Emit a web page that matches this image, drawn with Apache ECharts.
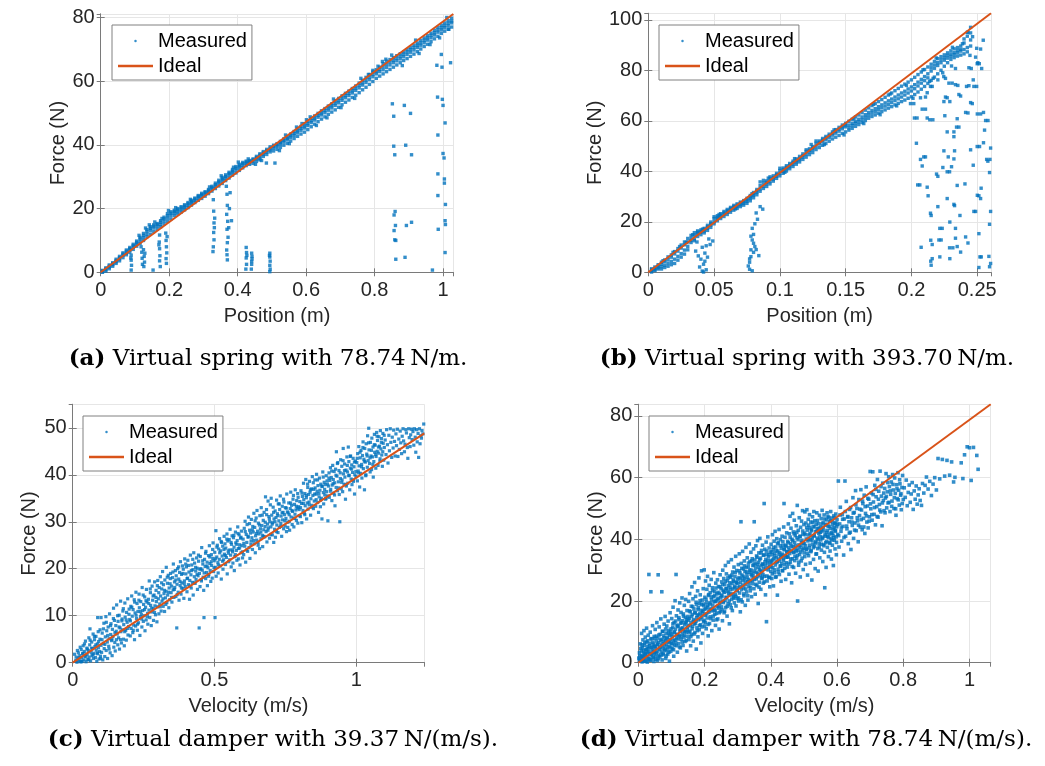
<!DOCTYPE html>
<html><head><meta charset="utf-8">
<script src="https://cdn.jsdelivr.net/npm/echarts@6/dist/echarts.min.js"></script>
<style>html,body{margin:0;padding:0;background:#fff}#c{width:1045px;height:766px}</style>
</head><body><div id="c"></div>
<script>
// ---------- axis ranges / labels ----------
const xMax = [1.03, 0.2605, 1.24, 1.064];
const yMax = [81.1, 102.56, 55, 83.78];
const xStep = [0.2, 0.05, 0.5, 0.2];
const yStep = [20, 20, 10, 20];
const xNames = ['Position (m)', 'Position (m)', 'Velocity (m/s)', 'Velocity (m/s)'];
const yNames = ['Force (N)', 'Force (N)', 'Force (N)', 'Force (N)'];
const seriesNames = ['Measured', 'Ideal'];
const captionTags = ['(a)', '(b)', '(c)', '(d)'];
const captionTexts = ['Virtual spring with 78.74\u2009N/m.', 'Virtual spring with 393.70\u2009N/m.',
  'Virtual damper with 39.37\u2009N/(m/s).', 'Virtual damper with 78.74\u2009N/(m/s).'];

// ---------- ideal lines (end points) ----------
const idealA = [[0, 0], [1.03, 81.1]];
const idealB = [[0, 0], [0.2605, 102.56]];
const idealC = [[0, 0], [1.24, 48.82]];
const idealD = [[0, 0], [1.064, 83.78]];

// ---------- (a) measured: band rows [x, y...] ----------
const bandA = [
[0.005,0.2,0.6,0.0,0.4],[0.015,0.8,1.4,0.4,1.1],[0.025,1.6,2.3,1.1,1.9],[0.035,2.4,3.0,1.9,2.7],[0.045,3.3,4.1,2.8,3.7],
[0.055,4.2,5.0,3.6,4.6],[0.065,5.3,6.1,4.6,5.7],[0.075,6.0,7.0,5.5,6.6],[0.085,7.0,7.8,6.3,7.4],[0.095,7.9,8.8,7.2,8.4],
[0.105,8.9,9.8,8.2,9.4],[0.115,9.8,11.0,9.0,10.5],[0.125,10.9,12.2,10.0,11.6],[0.135,12.0,13.4,11.2,12.8],[0.145,13.2,14.3,12.0,13.8],
[0.155,13.9,14.9,12.8,14.5],[0.165,14.4,15.3,13.5,15.0],[0.175,15.0,16.2,14.3,15.7],[0.185,16.1,17.3,15.2,16.8],[0.195,17.0,18.4,16.0,17.8],
[0.205,17.9,19.0,16.8,18.5],[0.215,18.6,19.5,17.8,19.1],[0.225,19.0,20.0,18.3,19.6],[0.235,19.6,20.6,18.9,20.2],[0.245,20.3,21.2,19.6,20.8],
[0.255,21.0,21.9,20.3,21.5],[0.265,21.8,22.6,21.1,22.2],[0.275,22.5,23.3,21.9,23.0],[0.285,23.3,24.1,22.6,23.8],[0.295,24.0,24.8,23.2,24.4],
[0.305,24.5,25.3,23.9,25.0],[0.315,25.2,26.0,24.7,25.7],[0.325,26.2,27.0,25.5,26.6],[0.335,27.0,28.0,26.3,27.5],[0.345,28.0,28.9,27.1,28.4],
[0.355,28.8,29.8,27.9,29.3],[0.365,29.6,30.6,28.8,30.1],[0.375,30.5,31.4,29.6,31.0],[0.385,31.3,32.3,30.5,31.8],[0.395,32.1,33.2,31.2,32.7],
[0.405,32.9,33.9,32.0,33.4],[0.415,33.6,34.5,32.8,34.1],[0.425,34.2,34.9,33.5,34.6],[0.435,34.4,35.1,33.9,34.8],[0.445,34.9,35.6,34.2,35.3],
[0.455,35.6,36.4,34.8,36.0],[0.465,36.4,37.2,35.7,36.8],[0.475,37.0,37.9,36.4,37.5],[0.485,37.7,38.6,37.0,38.2],[0.495,38.4,39.4,37.8,38.9],
[0.505,39.0,39.9,38.1,39.5],[0.515,39.5,40.4,38.6,40.0],[0.525,40.2,41.1,39.2,40.7],[0.535,40.9,41.9,39.9,41.4],[0.545,41.6,42.6,40.5,42.1],
[0.555,42.3,43.4,41.2,42.9],[0.565,43.0,44.2,42.0,43.6],[0.575,43.8,45.0,42.7,44.4],[0.585,44.6,45.8,43.4,45.2],[0.595,45.3,46.6,44.0,45.9],
[0.605,46.1,47.4,44.8,46.7],[0.615,47.0,48.3,45.7,47.6],[0.625,47.8,49.1,46.5,48.4],[0.635,48.7,49.9,47.3,49.3],[0.645,49.4,50.7,48.1,50.0],
[0.655,50.1,51.4,48.8,50.8],[0.665,50.9,52.2,49.6,51.6],[0.675,51.6,52.9,50.3,52.3],[0.685,52.4,53.8,51.0,53.1],[0.695,53.2,54.6,51.8,53.9],
[0.705,54.0,55.4,52.6,54.7],[0.715,54.8,56.2,53.4,55.5],[0.725,55.5,56.9,54.1,56.2],[0.735,56.3,57.7,54.9,57.0],[0.745,57.1,58.5,55.6,57.8],
[0.755,57.9,59.4,56.4,58.7],[0.765,58.8,60.3,57.3,59.5],[0.775,59.6,61.2,58.1,60.4],[0.785,60.5,62.1,59.0,61.3],[0.795,61.4,62.9,59.9,62.2],
[0.805,62.3,63.6,60.9,63.0],[0.815,63.0,64.4,61.6,63.7],[0.825,63.6,65.5,62.3,64.6],[0.835,64.3,66.3,63.0,65.3],[0.845,65.1,66.8,63.7,66.0],
[0.855,65.8,67.4,64.4,66.6],[0.865,66.4,68.0,65.1,67.2],[0.875,67.0,68.6,65.8,67.8],[0.885,67.7,69.2,66.5,68.5],[0.895,68.4,69.9,67.1,69.2],
[0.905,69.1,70.6,67.8,69.9],[0.915,69.8,71.3,68.5,70.6],[0.925,70.6,72.0,69.3,71.3],[0.935,71.3,72.8,70.1,72.0],[0.945,72.1,73.6,70.9,72.9],
[0.955,72.9,74.3,71.6,73.6],[0.965,73.6,75.1,72.4,74.4],[0.975,74.5,76.0,73.3,75.2],[0.985,75.4,76.9,74.1,76.1],[0.995,76.1,77.6,75.0,76.8],
[1.005,76.8,78.3,75.7,77.5],[1.015,77.4,79.0,76.3,78.2],[1.025,78.3,79.8,77.0,78.9]
];
const outA = [
[0.089,5.4],[0.089,3.8],[0.090,2.2],[0.089,0.7],[0.088,4.5],
[0.118,8.0],[0.120,6.3],[0.121,4.4],[0.122,2.5],[0.125,7.1],[0.127,5.0],[0.128,3.2],[0.126,1.8],[0.129,6.0],[0.153,0.7],
[0.172,11.7],[0.171,9.5],[0.172,7.4],[0.173,5.2],[0.172,3.6],[0.174,1.8],[0.170,8.6],
[0.190,12.3],[0.191,10.0],[0.192,8.0],[0.193,6.1],[0.191,4.3],[0.192,2.8],[0.194,11.2],
[0.329,22.8],[0.330,19.2],[0.331,15.5],[0.330,12.5],[0.331,10.2],[0.329,8.0],[0.328,6.5],[0.333,17.0],[0.332,14.0],
[0.367,27.0],[0.369,24.5],[0.370,21.0],[0.368,18.2],[0.371,16.0],[0.369,13.5],[0.372,11.0],[0.370,9.3],[0.368,7.0],[0.369,5.5],[0.370,3.9],[0.376,20.0],[0.374,14.0],[0.382,16.2],[0.378,25.0],
[0.425,7.8],[0.426,6.2],[0.425,4.5],[0.426,2.5],[0.424,1.0],[0.427,5.3],
[0.441,6.0],[0.442,4.2],[0.441,2.5],[0.440,1.0],[0.442,5.0],[0.441,3.4],
[0.494,6.0],[0.494,4.8],[0.495,3.5],[0.494,2.2],[0.495,1.0],[0.494,0.2],[0.493,5.3],
[0.465,35.3],[0.484,34.3],[0.509,34.3],
[0.852,52.9],[0.887,52.4],[0.856,49.0],[0.905,49.9],[0.856,39.6],[0.891,39.9],[0.859,36.9],[0.908,36.9],[0.860,19.1],[0.857,18.0],
[0.861,14.7],[0.893,14.7],[0.908,15.7],[0.857,13.1],[0.859,10.2],[0.862,10.0],[0.862,4.1],[0.889,4.7],[0.969,0.7],
[0.984,55.0],[0.998,54.3],[1.0,52.4],[1.006,46.9],[0.985,43.1],[1.0,37.3],[1.003,35.9],[0.985,30.9],[1.004,29.3],[1.004,28.0],
[0.985,24.1],[1.007,21.3],[1.006,16.2],[1.007,15.0],[0.986,13.5],[1.006,6.2],[0.995,68.4],[0.982,65.0],[0.997,64.4],[1.022,65.8],[1.017,76.3]
];
const jagA = [
[0.112,11.6],[0.131,13.9],[0.142,14.9],[0.158,15.8],[0.179,16.9],[0.198,19.4],[0.219,20.3],[0.262,22.9],[0.318,26.8],[0.352,30.3],
[0.388,33.0],[0.402,34.6],[0.431,35.6],[0.452,33.9],[0.47,35.1],[0.522,38.2],[0.551,40.4],[0.572,45.6],[0.588,46.7],[0.601,47.9],
[0.612,48.8],[0.63,46.1],[0.661,48.5],[0.702,51.7],[0.742,54.6],[0.782,62.1],[0.795,63.4],[0.81,64.7],[0.823,66.2],[0.833,66.9],
[0.881,64.9],[0.93,68.7],[0.962,71.5],[0.99,73.6],[1.011,80.0],[0.54,43.1],[0.68,54.4],[0.76,60.9],[0.85,68.2],[0.92,72.9]
];

// ---------- (b) measured ----------
const bandB = [
[0.0025,0.6,1.0,0.1,1.4],[0.005,1.5,2.1,0.7,1.0],[0.0075,2.4,3.0,1.3,1.8],[0.01,3.2,4.0,2.2,1.3],[0.0125,4.2,4.9,2.8,1.9],
[0.015,5.0,6.1,3.6,2.4],[0.0175,6.0,6.9,4.3,3.0],[0.02,7.3,8.2,5.2,3.5],[0.0225,8.4,9.4,6.3,4.8],[0.025,9.6,10.8,7.4,6.0],
[0.0275,10.9,12.0,8.8,7.2],[0.03,12.0,13.4,10.3,8.9],[0.0325,13.4,14.6,11.8,12.6],[0.035,14.7,15.7,13.2,12.5],[0.0375,15.4,16.4,14.2,15.9],
[0.04,15.8,16.8,14.9,16.2],[0.0425,16.3,17.4,15.6,17.0],[0.045,17.4,18.6,16.6,18.0],[0.0475,18.7,19.9,17.8,19.2],[0.05,20.0,21.3,19.2,22.0],
[0.0525,21.2,22.4,20.4,21.8],[0.055,22.0,23.2,21.3,22.6],[0.0575,22.9,24.1,22.1,23.5],[0.06,23.7,24.9,22.9,24.4],[0.0625,24.6,25.7,23.8,25.2],
[0.065,25.4,26.5,24.6,26.0],[0.0675,26.0,27.1,25.3,26.6],[0.07,26.7,27.8,26.0,27.3],[0.0725,27.3,28.4,26.6,27.9],[0.075,28.1,29.3,27.3,28.7],
[0.0775,29.2,30.4,28.3,29.8],[0.08,30.4,31.6,29.5,31.0],[0.0825,31.6,32.8,30.7,32.2],[0.085,33.0,34.3,32.1,35.8],[0.0875,34.0,35.3,33.2,36.4],
[0.09,35.0,36.2,34.0,35.6],[0.0925,35.9,37.1,35.0,37.8],[0.095,36.9,38.2,36.1,37.5],[0.0975,38.0,39.2,37.2,38.6],[0.1,39.1,40.3,38.2,41.2],
[0.1025,40.0,41.3,39.2,40.7],[0.105,41.0,42.2,40.1,41.6],[0.1075,41.8,43.1,41.0,42.4],[0.11,42.8,44.0,41.9,43.4],[0.1125,43.7,44.9,42.8,44.3],
[0.115,44.6,45.9,43.7,45.2],[0.1175,45.6,46.9,44.7,46.2],[0.12,46.7,47.9,45.6,48.5],[0.1225,47.7,48.9,46.6,48.3],[0.125,48.6,49.8,47.4,49.2],
[0.1275,49.8,51.1,48.6,52.0],[0.13,50.8,52.0,49.4,51.4],[0.1325,51.7,53.0,50.3,52.4],[0.135,52.5,53.8,51.0,53.2],[0.1375,53.4,54.7,51.9,54.1],
[0.14,54.3,55.6,52.8,55.0],[0.1425,55.1,56.5,53.5,55.8],[0.145,55.9,57.4,54.2,56.7],[0.1475,56.8,58.3,55.0,57.6],[0.15,57.6,59.0,55.6,58.3],
[0.1525,58.3,59.8,56.3,57.2],[0.155,59.0,60.6,57.0,58.1],[0.1575,59.8,61.5,57.8,59.0],[0.16,60.6,62.3,58.5,59.6],[0.1625,61.5,63.2,59.3,60.4],
[0.165,62.4,64.2,60.1,61.3],[0.1675,63.3,65.1,61.0,62.2],[0.17,64.1,66.0,61.7,63.0],[0.1725,64.8,66.8,62.3,63.6],[0.175,65.6,67.6,63.0,64.4],
[0.1775,66.3,68.4,63.6,65.1],[0.18,67.1,69.3,64.3,65.8],[0.1825,67.9,70.2,65.0,66.5],[0.185,68.6,71.0,65.6,67.2],[0.1875,69.4,71.9,66.3,68.0],
[0.19,70.2,72.8,66.9,68.7],[0.1925,71.0,73.7,67.6,69.4],[0.195,71.7,74.5,68.2,70.2],[0.1975,72.6,75.3,68.9,71.0],[0.2,73.4,76.2,69.5,71.8],
[0.2025,74.3,77.2,70.4,72.7],[0.205,75.3,78.3,71.4,73.8],[0.2075,76.4,79.3,72.5,74.9],[0.21,77.5,80.3,73.6,75.9],[0.2125,78.6,81.3,74.8,77.0],
[0.215,79.7,82.4,76.0,81.0],[0.2175,80.8,83.5,77.3,82.1],[0.22,81.9,84.6,78.6,83.0],[0.2225,83.0,85.4,80.0,84.2],[0.225,84.0,86.1,81.6,85.0],
[0.2275,84.8,86.9,83.0,85.9],[0.23,85.5,87.7,84.3,86.4],[0.2325,86.2,88.5,85.0,87.0],[0.235,86.9,89.0,85.6,87.8],[0.2375,87.6,89.6,86.0,88.3],
[0.24,88.2,90.8,86.5,92.4],[0.2425,89.0,93.5,87.3,95.0],[0.245,94.8,97.0,89.6,92.0]
];
const outB = [
[0.036,8.4],[0.038,6.5],[0.039,2.1],[0.040,5.2],[0.041,9.9],[0.041,0.5],[0.042,3.2],[0.043,4.4],[0.043,7.6],[0.044,1.0],
[0.045,6.0],[0.046,13.2],[0.047,11.0],[0.049,12.4],[0.042,0.1],[0.037,12.0],[0.044,10.5],
[0.082,23.5],[0.083,21.0],[0.081,19.2],[0.079,17.4],[0.080,15.0],[0.078,14.3],[0.079,12.8],[0.081,10.2],[0.080,7.9],[0.078,6.2],
[0.077,4.0],[0.076,2.5],[0.077,1.2],[0.079,0.6],[0.084,6.6],[0.082,9.0],[0.085,26.0],[0.087,25.0],[0.078,8.9],[0.080,11.5],[0.077,5.3],
[0.243,95.1],[0.2465,93.3],[0.2496,88.7],[0.2526,88.4],[0.2445,85.9],[0.2488,85.2],[0.2437,81.0],[0.2455,80.7],[0.25,82.6],[0.2516,82.6],
[0.2534,80.7],[0.2305,81.7],[0.2335,80.7],[0.2246,77.5],[0.2259,76.8],[0.2201,76.2],[0.2285,74.9],[0.231,74.9],[0.2335,74.3],[0.2353,74.0],
[0.2419,73.6],[0.2437,73.9],[0.2475,73.6],[0.2496,73.6],[0.247,76.2],[0.2145,73.6],[0.2158,73.6],[0.2069,69.1],[0.2107,69.4],[0.212,71.1],
[0.2259,69.4],[0.2272,69.1],[0.2361,70.4],[0.2374,69.8],[0.2247,67.6],[0.2292,67.6],[0.245,67.2],[0.2463,66.8],[0.1993,66.8],[0.2018,66.8],
[0.2082,64.6],[0.2107,64.6],[0.2412,63.3],[0.243,63.1],[0.2501,62.7],[0.2526,62.7],[0.2023,61.1],[0.2043,61.1],[0.212,61.1],[0.214,60.4],
[0.2163,60.4],[0.2254,62.0],[0.2348,60.8],[0.2564,60.1],[0.2582,60.1],[0.2343,57.5],[0.2361,57.5],[0.2323,55.6],[0.2272,55.6],[0.2323,53.7],
[0.2556,56.3],[0.2038,51.1],[0.2247,48.1],[0.2328,48.1],[0.245,48.5],[0.25,49.8],[0.2518,49.8],[0.2602,49.2],[0.2094,45.7],[0.2107,45.7],
[0.2069,44.7],[0.228,45.7],[0.2323,44.9],[0.2572,44.7],[0.2597,44.7],[0.2082,42.1],[0.2305,41.8],[0.2239,41.5],[0.2272,39.8],[0.229,39.8],
[0.247,42.4],[0.2191,38.9],[0.2201,38.0],[0.2407,35.0],[0.2348,34.4],[0.2048,34.6],[0.2064,34.6],[0.212,33.7],[0.253,33.3],[0.2501,30.5],
[0.2513,30.3],[0.2526,29.2],[0.2127,30.3],[0.2272,29.2],[0.2323,26.9],[0.2328,26.4],[0.2201,26.0],[0.2475,24.1],[0.2488,24.1],[0.2145,23.4],
[0.215,22.5],[0.2369,22.5],[0.2602,24.1],[0.2292,19.9],[0.2216,17.4],[0.2234,17.4],[0.2335,17.4],[0.2513,15.3],[0.2412,14.0],[0.2209,12.8],
[0.2226,12.8],[0.2335,13.5],[0.243,11.6],[0.2074,9.9],[0.2158,11.0],[0.229,9.7],[0.2315,9.7],[0.2348,10.2],[0.2374,8.0],[0.2292,5.4],
[0.2521,6.1],[0.2531,6.1],[0.2589,6.3],[0.2158,5.4],[0.2216,6.1],[0.215,2.8],[0.2513,1.9],[0.2602,3.5],[0.2147,12.7],[0.2147,4.4],
[0.2165,76.8],[0.2546,91.9],[0.2505,83.0],[0.2548,63.3],[0.2548,51.3],[0.2581,44.0],[0.2594,39.5],[0.2594,19.0],[0.2594,2.2]
];
const jagB = [
[0.0112,4.6],[0.0188,7.9],[0.0238,10.2],[0.0288,11.9],[0.0338,14.9],[0.0412,17.1],[0.0538,22.9],[0.0662,25.1],[0.0788,31.1],[0.0912,37.3],
[0.1038,39.6],[0.1112,45.0],[0.1238,50.6],[0.1338,50.6],[0.1412,56.4],[0.1488,54.4],[0.1562,60.9],[0.1638,58.9],[0.1712,66.5],[0.1762,62.4],
[0.1838,70.6],[0.1888,65.9],[0.1962,74.0],[0.2012,68.9],[0.2088,80.2],[0.2138,75.6],[0.2188,84.9],[0.2238,79.0],[0.2312,89.1],[0.2388,90.5]
];

// ---------- (c) measured ----------
const cloudC = [
[0.01,0.3],[0.012,1.2],[0.015,0.1],[0.018,0.8],[0.02,2.1],[0.022,0.4],[0.025,1.5],[0.027,0.2],[0.03,2.8],[0.031,1.0],[0.033,0.3],[0.035,1.9],[0.037,3.6],[0.04,0.6],[0.041,2.4],[0.043,1.3],[0.045,4.6],[0.047,0.2],[0.05,3.1],[0.051,1.8],[0.053,0.7],[0.055,2.6],[0.057,5.3],[0.058,1.2],[0.06,3.8],[0.061,7.2],[0.063,0.4],[0.065,2.2],[0.067,4.4],[0.068,1.5],[0.07,3.0],[0.072,6.1],[0.073,0.9],[0.075,2.0],[0.077,4.9],[0.078,3.4],[0.08,1.1],[0.082,5.6],[0.083,2.7],[0.085,0.3],[0.087,4.0],[0.088,1.9],[0.09,6.6],[0.091,3.2],[0.093,0.8],[0.095,2.4],[0.096,5.0],[0.098,1.4],[0.1,3.7],[0.1,9.6],[0.088,9.6],
[0.102,2.2],[0.104,6.3],[0.106,0.6],[0.108,4.1],[0.11,8.4],[0.111,3.0],[0.113,1.3],[0.115,5.5],[0.117,9.8],[0.118,2.6],[0.12,6.8],[0.122,4.4],[0.123,0.9],[0.125,7.6],[0.127,3.5],[0.128,5.1],[0.13,10.4],[0.132,2.1],[0.134,6.0],[0.135,8.3],[0.137,4.7],[0.139,1.5],[0.14,7.1],[0.142,5.6],[0.144,11.6],[0.145,3.3],[0.147,9.0],[0.149,6.4],[0.15,2.5],[0.152,7.9],[0.154,4.9],[0.155,12.3],[0.157,6.1],[0.159,3.8],[0.16,8.8],[0.162,5.3],[0.164,10.1],[0.165,2.9],[0.167,7.4],[0.169,13.1],[0.17,6.6],[0.172,4.2],[0.174,9.3],[0.175,7.0],[0.177,11.0],[0.179,5.0],[0.18,8.1],[0.182,3.6],[0.184,12.7],[0.185,9.7],[0.187,6.9],[0.189,4.8],[0.19,10.7],[0.192,8.6],[0.194,13.6],[0.195,5.9],[0.197,7.7],[0.199,11.4],
[0.201,9.2],[0.203,5.7],[0.205,12.0],[0.206,7.3],[0.208,14.2],[0.21,9.9],[0.212,6.4],[0.213,11.3],[0.215,8.0],[0.217,13.4],[0.218,4.9],[0.22,10.6],[0.222,7.8],[0.223,15.0],[0.225,9.4],[0.227,12.6],[0.228,6.9],[0.23,10.9],[0.232,8.5],[0.234,14.6],[0.235,11.7],[0.237,5.8],[0.239,9.8],[0.24,13.0],[0.242,10.3],[0.244,7.6],[0.245,16.0],[0.247,11.1],[0.249,8.8],[0.25,12.4],[0.252,10.0],[0.254,14.0],[0.255,6.8],[0.257,11.8],[0.259,9.1],[0.26,15.6],[0.262,12.9],[0.264,10.5],[0.265,8.2],[0.267,13.5],[0.269,11.2],[0.27,17.4],[0.272,9.6],[0.274,14.9],[0.275,12.2],[0.277,7.9],[0.279,10.8],[0.28,16.3],[0.282,13.3],[0.284,11.5],[0.285,9.0],[0.287,14.4],[0.289,17.2],[0.29,12.1],[0.292,10.2],[0.294,15.4],[0.295,13.0],[0.297,8.7],[0.299,11.9],[0.3,17.5],
[0.302,13.6],[0.304,10.4],[0.305,16.0],[0.307,12.5],[0.309,18.3],[0.31,14.2],[0.312,11.0],[0.314,15.7],[0.315,13.1],[0.317,19.4],[0.319,12.0],[0.32,16.6],[0.322,14.7],[0.324,10.9],[0.325,17.6],[0.327,13.8],[0.329,15.2],[0.33,20.3],[0.332,12.8],[0.334,16.9],[0.335,14.4],[0.337,18.6],[0.339,11.7],[0.34,15.9],[0.342,13.4],[0.344,17.9],[0.345,19.0],[0.347,14.9],[0.349,16.3],[0.35,12.9],[0.352,18.1],[0.354,15.5],[0.355,21.0],[0.357,13.9],[0.359,17.2],[0.36,16.0],[0.362,19.6],[0.364,14.1],[0.365,18.5],[0.367,7.4],[0.368,16.7],[0.37,20.0],[0.372,15.0],[0.374,17.8],[0.375,13.3],[0.377,19.2],[0.379,16.4],[0.38,21.5],[0.382,14.6],[0.384,18.8],[0.385,17.0],[0.387,20.6],[0.389,15.8],[0.39,19.9],[0.392,13.7],[0.394,17.4],[0.395,22.1],[0.397,16.2],[0.399,18.9],
[0.401,20.4],[0.403,15.1],[0.405,18.0],[0.406,21.8],[0.408,16.6],[0.41,19.3],[0.412,13.5],[0.413,17.5],[0.415,22.9],[0.417,18.7],[0.418,15.9],[0.42,20.8],[0.422,17.1],[0.424,19.8],[0.425,14.4],[0.427,23.4],[0.429,18.3],[0.43,21.2],[0.432,16.9],[0.434,19.5],[0.435,17.7],[0.437,22.3],[0.439,20.1],[0.44,15.6],[0.442,18.5],[0.444,21.6],[0.446,7.4],[0.447,19.0],[0.449,16.2],[0.45,22.6],[0.452,20.0],[0.454,17.4],[0.455,24.5],[0.457,19.7],[0.459,21.0],[0.46,18.2],[0.462,15.4],[0.463,9.6],[0.465,22.0],[0.467,20.5],[0.469,17.9],[0.47,23.7],[0.472,19.2],[0.474,21.4],[0.475,16.4],[0.477,20.2],[0.479,22.8],[0.48,18.8],[0.482,24.9],[0.484,21.1],[0.485,19.6],[0.487,17.3],[0.489,23.0],[0.49,20.7],[0.492,18.0],[0.494,22.2],[0.495,25.5],[0.497,19.4],[0.499,21.7],
[0.501,23.5],[0.502,9.6],[0.503,20.3],[0.505,28.1],[0.506,18.4],[0.508,22.5],[0.51,25.0],[0.512,21.3],[0.513,19.1],[0.515,24.2],[0.517,22.0],[0.518,26.4],[0.52,20.6],[0.522,23.8],[0.524,17.8],[0.525,25.6],[0.527,22.7],[0.529,24.8],[0.53,19.9],[0.532,21.9],[0.534,26.9],[0.535,23.1],[0.537,25.3],[0.539,20.9],[0.54,24.4],[0.542,22.4],[0.544,27.4],[0.545,18.9],[0.547,25.9],[0.549,23.3],[0.55,21.5],[0.552,26.2],[0.554,24.0],[0.555,28.4],[0.557,22.9],[0.559,20.4],[0.56,25.2],[0.562,27.0],[0.564,23.6],[0.565,21.2],[0.567,26.6],[0.569,24.6],[0.57,19.6],[0.572,22.6],[0.574,27.8],[0.575,25.5],[0.577,23.9],[0.579,21.8],[0.58,26.0],[0.582,28.9],[0.584,24.3],[0.585,22.1],[0.587,27.2],[0.589,25.1],[0.59,20.8],[0.592,26.5],[0.594,23.4],[0.595,28.0],[0.597,24.9],[0.599,22.3],
[0.601,26.3],[0.603,23.0],[0.605,28.6],[0.607,24.8],[0.608,30.1],[0.61,21.4],[0.612,27.3],[0.614,25.6],[0.615,29.4],[0.617,23.7],[0.619,26.9],[0.62,31.0],[0.622,24.5],[0.624,28.2],[0.625,22.2],[0.627,27.6],[0.629,25.9],[0.63,30.5],[0.632,26.6],[0.634,24.1],[0.635,29.0],[0.637,27.8],[0.639,31.8],[0.64,25.3],[0.642,28.8],[0.644,23.4],[0.645,27.0],[0.647,30.8],[0.649,26.1],[0.65,32.4],[0.652,28.0],[0.654,25.0],[0.655,29.7],[0.657,27.4],[0.659,24.3],[0.66,31.3],[0.662,28.5],[0.664,26.4],[0.665,33.0],[0.667,29.2],[0.669,27.1],[0.67,24.7],[0.672,30.3],[0.674,28.3],[0.675,32.0],[0.677,26.8],[0.679,29.9],[0.68,35.3],[0.682,27.9],[0.684,31.5],[0.685,25.7],[0.687,29.5],[0.689,34.4],[0.69,28.7],[0.692,31.1],[0.694,26.5],[0.695,30.0],[0.697,33.6],[0.699,28.9],[0.7,35.0],
[0.702,31.4],[0.704,27.2],[0.705,29.8],[0.707,33.1],[0.709,25.6],[0.71,30.6],[0.712,28.4],[0.714,32.3],[0.715,26.7],[0.717,30.9],[0.719,34.6],[0.72,29.3],[0.722,31.7],[0.724,27.7],[0.725,33.8],[0.727,30.2],[0.729,28.8],[0.73,32.6],[0.732,35.5],[0.734,29.6],[0.735,31.2],[0.737,26.9],[0.739,33.3],[0.74,30.4],[0.742,32.0],[0.744,28.5],[0.745,34.2],[0.747,31.5],[0.749,29.1],[0.75,33.0],[0.752,30.7],[0.754,27.9],[0.755,35.9],[0.757,32.1],[0.759,29.9],[0.76,31.9],[0.762,34.0],[0.764,30.1],[0.765,28.2],[0.767,32.8],[0.769,36.3],[0.77,31.0],[0.772,33.5],[0.774,29.4],[0.775,32.2],[0.777,34.8],[0.779,30.8],[0.78,28.9],[0.782,33.7],[0.784,31.6],[0.785,36.8],[0.787,32.5],[0.789,30.3],[0.79,34.5],[0.792,32.9],[0.794,29.7],[0.795,35.2],[0.797,33.2],[0.799,31.3],
[0.801,34.3],[0.803,31.1],[0.805,36.6],[0.807,33.9],[0.808,29.8],[0.81,35.4],[0.812,32.4],[0.814,38.2],[0.815,34.7],[0.817,31.8],[0.819,36.0],[0.82,33.4],[0.822,39.0],[0.824,35.1],[0.825,30.6],[0.827,34.0],[0.829,37.3],[0.83,32.7],[0.832,35.8],[0.834,33.6],[0.835,38.6],[0.837,36.3],[0.839,31.4],[0.84,34.9],[0.842,37.0],[0.844,33.1],[0.845,39.6],[0.847,35.6],[0.849,32.8],[0.85,36.9],[0.852,34.4],[0.854,38.9],[0.855,37.2],[0.857,33.3],[0.859,35.9],[0.86,40.1],[0.862,36.5],[0.864,34.1],[0.865,37.7],[0.867,32.0],[0.869,35.3],[0.87,39.3],[0.872,36.7],[0.874,34.6],[0.875,38.0],[0.877,35.0],[0.879,30.6],[0.88,37.5],[0.882,40.6],[0.884,36.2],[0.885,33.8],[0.887,38.4],[0.889,35.7],[0.89,37.9],[0.892,34.8],[0.894,39.8],[0.895,36.4],[0.897,38.7],[0.899,35.5],[0.9,30.2],
[0.902,37.6],[0.904,40.4],[0.905,35.2],[0.907,38.8],[0.909,41.5],[0.91,36.9],[0.912,39.4],[0.914,34.5],[0.915,37.8],[0.917,42.0],[0.919,39.0],[0.92,36.1],[0.922,40.7],[0.924,38.3],[0.925,33.4],[0.927,41.2],[0.929,37.3],[0.93,44.9],[0.932,39.7],[0.934,36.6],[0.935,42.6],[0.937,38.5],[0.939,40.9],[0.94,35.8],[0.942,30.0],[0.944,39.2],[0.945,43.2],[0.947,37.0],[0.949,41.8],[0.95,38.9],[0.952,36.4],[0.954,45.6],[0.955,40.2],[0.957,38.0],[0.959,42.3],[0.96,39.5],[0.962,34.8],[0.964,41.0],[0.965,37.6],[0.967,43.8],[0.969,40.6],[0.97,38.2],[0.972,45.9],[0.974,42.8],[0.975,39.9],[0.977,36.8],[0.979,41.4],[0.98,44.0],[0.982,39.1],[0.984,42.1],[0.985,37.9],[0.987,40.5],[0.989,43.5],[0.99,38.6],[0.992,41.7],[0.994,35.9],[0.995,40.0],[0.997,42.9],[0.999,39.6],
[1.002,42.6],[1.004,38.7],[1.005,44.5],[1.007,40.8],[1.009,46.0],[1.01,41.9],[1.012,37.4],[1.014,43.6],[1.015,40.3],[1.017,45.2],[1.019,42.2],[1.02,39.3],[1.022,44.1],[1.024,47.0],[1.025,41.3],[1.027,43.3],[1.029,36.8],[1.03,45.6],[1.032,42.7],[1.034,40.0],[1.035,46.6],[1.037,44.4],[1.039,41.6],[1.04,48.3],[1.042,43.0],[1.044,49.9],[1.045,45.3],[1.047,42.4],[1.049,40.6],[1.05,46.9],[1.052,44.0],[1.054,41.1],[1.055,47.8],[1.057,43.8],[1.059,45.9],[1.06,39.5],[1.062,42.8],[1.064,48.6],[1.065,44.8],[1.067,46.3],[1.069,41.4],[1.07,43.9],[1.072,49.0],[1.074,45.0],[1.075,47.3],[1.077,42.0],[1.079,44.6],[1.08,48.1],[1.082,46.1],[1.084,43.4],[1.085,49.4],[1.087,45.5],[1.089,47.7],[1.09,44.2],[1.092,41.8],[1.094,48.8],[1.095,46.7],[1.097,43.1],[1.099,45.8],
[1.102,47.4],[1.105,44.3],[1.107,49.6],[1.11,46.4],[1.112,42.5],[1.115,48.4],[1.117,45.1],[1.12,49.8],[1.122,46.9],[1.125,43.7],[1.127,48.0],[1.13,45.7],[1.132,49.5],[1.135,47.1],[1.137,44.0],[1.14,48.7],[1.142,46.2],[1.145,49.7],[1.147,43.9],[1.15,47.6],[1.152,45.4],[1.155,49.3],[1.157,46.8],[1.16,44.5],[1.162,48.2],[1.165,49.8],[1.167,47.2],[1.17,44.9],[1.172,46.5],[1.175,49.6],[1.177,48.9],[1.18,45.8],[1.182,43.5],[1.185,49.8],[1.187,47.9],[1.19,46.0],[1.192,48.5],[1.195,49.7],[1.197,47.5],[1.2,49.2],[1.203,46.3],[1.205,49.8],[1.208,48.0],[1.21,44.8],[1.213,49.6],[1.215,47.0],[1.218,48.8],[1.22,43.7],[1.223,49.8],[1.225,46.6],[1.228,48.3],[1.23,47.8],[1.232,49.4],[1.235,48.7],[1.238,50.8]
];
const cloudC2 = [
[0.0065,1.8],[0.0115,0.5],[0.0165,2.6],[0.0215,1.1],[0.0265,3.3],[0.0315,0.2],[0.0365,2.0],[0.0415,4.0],[0.0465,1.4],[0.0515,2.9],[0.0565,0.6],[0.0615,4.8],[0.0665,3.1],[0.0715,1.7],[0.0765,5.6],[0.0815,3.8],[0.0865,2.1],[0.0915,4.5],[0.0965,7.0],[0.0985,0.9],
[0.1035,4.9],[0.1085,7.2],[0.1135,3.9],[0.1185,8.6],[0.1235,5.8],[0.1285,2.9],[0.1335,7.9],[0.1385,5.0],[0.1435,9.4],[0.1485,4.3],[0.1535,6.7],[0.1585,10.0],[0.1635,7.6],[0.1685,4.9],[0.1735,8.9],[0.1785,11.5],[0.1835,6.6],[0.1885,9.1],[0.1935,7.3],[0.1985,10.3],
[0.2035,8.9],[0.2085,11.8],[0.2135,6.9],[0.2185,12.9],[0.2235,10.1],[0.2285,8.2],[0.2335,13.3],[0.2385,10.9],[0.2435,9.3],[0.2485,14.4],[0.2535,11.3],[0.2585,13.2],[0.2635,9.8],[0.2685,12.6],[0.2735,15.7],[0.2785,11.6],[0.2835,14.2],[0.2885,10.7],[0.2935,13.9],[0.2985,16.4],
[0.3035,14.9],[0.3085,11.9],[0.3135,17.0],[0.3185,13.6],[0.3235,15.4],[0.3285,12.4],[0.3335,18.2],[0.3385,15.0],[0.3435,16.8],[0.3485,13.9],[0.3535,19.3],[0.3585,15.6],[0.3635,17.6],[0.3685,14.5],[0.3735,20.4],[0.3785,17.3],[0.3835,15.9],[0.3885,19.0],[0.3935,16.8],[0.3985,21.0],
[0.4035,17.9],[0.4085,20.7],[0.4135,16.3],[0.4185,19.6],[0.4235,22.0],[0.4285,17.0],[0.4335,20.3],[0.4385,18.8],[0.4435,22.9],[0.4485,19.9],[0.4535,17.7],[0.4585,21.7],[0.4635,19.1],[0.4685,23.3],[0.4735,20.6],[0.4785,18.4],[0.4835,22.5],[0.4885,21.5],[0.4935,24.1],[0.4985,20.2],
[0.5035,22.1],[0.5085,24.6],[0.5135,20.8],[0.5185,23.4],[0.5235,25.8],[0.5285,21.6],[0.5335,24.1],[0.5385,22.8],[0.5435,26.3],[0.5485,23.8],[0.5535,21.9],[0.5585,25.6],[0.5635,24.0],[0.5685,27.1],[0.5735,23.0],[0.5785,25.2],[0.5835,27.5],[0.5885,24.4],[0.5935,26.7],[0.5985,23.6],
[0.6035,25.4],[0.6085,27.9],[0.6135,24.0],[0.6185,26.7],[0.6235,29.6],[0.6285,25.2],[0.6335,28.3],[0.6385,26.0],[0.6435,30.2],[0.6485,27.5],[0.6535,25.6],[0.6585,29.3],[0.6635,27.8],[0.6685,31.4],[0.6735,26.9],[0.6785,29.0],[0.6835,32.6],[0.6885,28.2],[0.6935,30.6],[0.6985,27.3],
[0.7035,29.5],[0.7085,32.0],[0.7135,30.0],[0.7185,27.9],[0.7235,31.3],[0.7285,33.8],[0.7335,29.0],[0.7385,31.9],[0.7435,34.8],[0.7485,30.2],[0.7535,32.9],[0.7585,28.8],[0.7635,31.5],[0.7685,34.0],[0.7735,32.4],[0.7785,35.6],[0.7835,30.7],[0.7885,33.3],[0.7935,36.0],[0.7985,32.6],
[0.8035,33.0],[0.8085,36.1],[0.8135,33.9],[0.8185,31.5],[0.8235,35.6],[0.8285,38.0],[0.8335,34.2],[0.8385,36.8],[0.8435,33.5],[0.8485,38.3],[0.8535,35.9],[0.8585,34.7],[0.8635,38.9],[0.8685,36.0],[0.8735,33.2],[0.8785,37.6],[0.8835,39.5],[0.8885,36.9],[0.8935,35.0],[0.8985,38.0],
[0.9035,39.3],[0.9085,36.5],[0.9135,40.8],[0.9185,38.1],[0.9235,35.7],[0.9285,39.9],[0.9335,42.4],[0.9385,37.2],[0.9435,40.4],[0.9485,38.4],[0.9535,43.0],[0.9585,40.9],[0.9635,37.9],[0.9685,42.0],[0.9735,39.8],[0.9785,43.9],[0.9835,41.2],[0.9885,38.9],[0.9935,42.7],[0.9985,40.7],
[1.0035,43.5],[1.0085,40.4],[1.0135,44.8],[1.0185,41.7],[1.0235,45.8],[1.0285,42.9],[1.0335,39.8],[1.0385,44.0],[1.0435,46.8],[1.0485,43.6],[1.0535,45.2],[1.0585,42.2],[1.0635,46.4],[1.0685,44.3],[1.0735,48.2],[1.0785,45.9],[1.0835,42.9],[1.0885,46.9],[1.0935,44.9],[1.0985,48.4]
];

// ---------- (d) measured ----------
const cloudD = [
[0.003,0.5],[0.005,2.3],[0.006,6.1],[0.008,1.2],[0.009,3.8],[0.01,9.5],[0.011,0.3],[0.012,4.9],[0.013,2.0],[0.014,7.4],[0.015,1.0],[0.016,3.1],[0.017,10.4],[0.018,5.6],[0.019,0.6],[0.02,2.7],[0.021,8.3],[0.022,4.2],[0.023,1.6],[0.024,6.7],[0.025,11.2],[0.026,3.4],[0.027,0.2],[0.028,5.2],[0.029,2.2],[0.03,8.9],[0.031,4.5],[0.032,28.6],[0.033,1.3],[0.034,6.3],[0.035,3.0],[0.036,9.9],[0.037,0.8],[0.038,23.0],[0.039,5.0],[0.04,2.5],[0.041,7.8],[0.042,4.0],[0.043,12.0],[0.044,1.8],[0.045,6.0],[0.046,3.6],[0.047,0.4],[0.048,8.5],[0.049,5.4],[0.05,2.9],
[0.051,10.8],[0.052,4.7],[0.053,1.1],[0.054,7.0],[0.055,3.2],[0.056,13.0],[0.057,5.8],[0.058,0.7],[0.059,8.0],[0.06,28.5],[0.061,2.4],[0.062,6.5],[0.063,11.6],[0.064,4.3],[0.065,1.9],[0.066,9.2],[0.067,5.1],[0.068,14.2],[0.069,3.5],[0.07,7.6],[0.071,23.0],[0.072,0.9],[0.073,6.2],[0.074,10.1],[0.075,4.6],[0.076,2.6],[0.077,8.7],[0.078,12.5],[0.079,5.5],[0.08,3.9],[0.081,15.0],[0.082,7.2],[0.083,1.4],[0.084,9.6],[0.085,6.0],[0.086,11.9],[0.087,4.1],[0.088,8.2],[0.089,2.8],[0.09,13.5],[0.091,6.8],[0.092,10.5],[0.093,5.3],[0.094,0.5],[0.095,8.9],[0.096,16.2],[0.097,7.5],[0.098,3.7],[0.099,11.0],[0.1,6.3],
[0.101,14.3],[0.102,8.5],[0.103,4.5],[0.104,11.4],[0.105,18.0],[0.106,7.1],[0.107,2.1],[0.108,13.0],[0.109,9.7],[0.11,5.7],[0.111,20.1],[0.112,10.9],[0.113,6.6],[0.114,28.6],[0.115,15.2],[0.116,8.0],[0.117,12.2],[0.118,3.4],[0.119,9.2],[0.12,17.1],[0.121,11.7],[0.122,6.2],[0.123,14.0],[0.124,8.8],[0.125,19.4],[0.126,10.3],[0.127,4.8],[0.128,12.8],[0.129,16.3],[0.13,7.6],[0.131,11.1],[0.132,21.0],[0.133,9.4],[0.134,13.6],[0.135,5.6],[0.136,15.8],[0.137,10.6],[0.138,8.3],[0.139,18.6],[0.14,12.4],[0.141,6.9],[0.142,14.7],[0.143,20.5],[0.144,9.9],[0.145,13.2],[0.146,3.8],[0.147,16.9],[0.148,11.5],[0.149,8.6],[0.15,15.0],
[0.151,12.0],[0.152,19.9],[0.153,7.5],[0.154,14.4],[0.155,22.4],[0.156,10.2],[0.157,16.5],[0.158,5.5],[0.159,13.1],[0.16,18.3],[0.161,9.1],[0.162,24.6],[0.163,15.6],[0.164,11.8],[0.165,20.7],[0.166,7.0],[0.167,14.0],[0.168,17.4],[0.169,12.6],[0.17,26.0],[0.171,9.8],[0.172,16.1],[0.173,21.5],[0.174,13.5],[0.175,4.4],[0.176,18.9],[0.177,11.3],[0.178,15.3],[0.179,23.3],[0.18,8.4],[0.181,17.8],[0.182,13.9],[0.183,27.5],[0.184,10.7],[0.185,19.2],[0.186,15.9],[0.187,22.0],[0.188,12.3],[0.189,6.4],[0.19,17.0],[0.191,29.8],[0.192,14.8],[0.193,20.3],[0.194,9.5],[0.195,16.7],[0.196,24.0],[0.197,13.3],[0.198,18.5],[0.199,30.1],[0.2,11.9],
[0.201,21.2],[0.202,15.4],[0.203,26.5],[0.204,17.6],[0.205,11.0],[0.206,19.6],[0.207,23.8],[0.208,14.5],[0.209,28.0],[0.21,18.0],[0.211,8.7],[0.212,21.8],[0.213,16.4],[0.214,25.1],[0.215,12.7],[0.216,19.0],[0.217,22.7],[0.218,14.9],[0.219,17.3],[0.22,27.0],[0.221,20.4],[0.222,10.4],[0.223,16.8],[0.224,24.3],[0.225,18.7],[0.226,13.8],[0.227,21.4],[0.228,29.2],[0.229,17.1],[0.23,23.0],[0.231,15.7],[0.232,19.8],[0.233,12.1],[0.234,25.8],[0.235,20.0],[0.236,16.0],[0.237,22.3],[0.238,18.2],[0.239,26.9],[0.24,14.2],[0.241,20.9],[0.242,24.7],[0.243,17.7],[0.244,10.9],[0.245,22.5],[0.246,19.3],[0.247,28.5],[0.248,16.6],[0.249,21.0],[0.25,24.0],
[0.251,18.1],[0.252,26.2],[0.253,21.6],[0.254,13.6],[0.255,30.0],[0.256,23.5],[0.257,19.5],[0.258,27.3],[0.259,16.2],[0.26,22.8],[0.261,25.4],[0.262,20.2],[0.263,31.5],[0.264,17.9],[0.265,24.1],[0.266,28.8],[0.267,21.1],[0.268,15.1],[0.269,26.6],[0.27,23.2],[0.271,19.1],[0.272,32.6],[0.273,25.0],[0.274,21.9],[0.275,12.6],[0.276,28.1],[0.277,24.5],[0.278,18.8],[0.279,27.7],[0.28,22.4],[0.281,33.4],[0.282,20.6],[0.283,25.7],[0.284,16.9],[0.285,29.4],[0.286,23.9],[0.287,21.3],[0.288,26.4],[0.289,31.0],[0.29,19.4],[0.291,24.8],[0.292,27.9],[0.293,22.1],[0.294,34.5],[0.295,18.4],[0.296,25.9],[0.297,29.9],[0.298,23.6],[0.299,20.8],[0.3,27.1],
[0.301,24.4],[0.302,31.8],[0.303,20.0],[0.304,27.6],[0.305,35.3],[0.306,22.6],[0.307,29.1],[0.308,16.5],[0.309,26.0],[0.31,45.7],[0.311,32.2],[0.312,23.7],[0.313,28.4],[0.314,19.7],[0.315,36.1],[0.316,26.8],[0.317,30.4],[0.318,24.2],[0.319,21.7],[0.32,33.0],[0.321,27.4],[0.322,29.6],[0.323,18.6],[0.324,25.3],[0.325,37.4],[0.326,30.9],[0.327,22.9],[0.328,28.6],[0.329,34.0],[0.33,26.3],[0.331,20.3],[0.332,31.2],[0.333,27.0],[0.334,24.7],[0.335,38.5],[0.336,29.3],[0.337,32.8],[0.338,23.3],[0.339,26.6],[0.34,35.8],[0.341,30.0],[0.342,21.4],[0.343,28.2],[0.344,33.7],[0.345,25.6],[0.346,31.5],[0.347,27.8],[0.348,36.9],[0.349,24.0],[0.35,45.7],
[0.351,29.7],[0.352,33.3],[0.353,22.2],[0.354,30.7],[0.355,37.9],[0.356,27.2],[0.357,34.6],[0.358,25.0],[0.359,31.9],[0.36,39.6],[0.361,28.9],[0.362,19.2],[0.363,32.5],[0.364,35.6],[0.365,26.1],[0.366,30.2],[0.367,40.3],[0.368,28.3],[0.369,33.9],[0.37,23.8],[0.371,31.4],[0.372,36.4],[0.373,29.5],[0.374,27.5],[0.375,38.1],[0.376,32.0],[0.377,25.8],[0.378,34.9],[0.379,30.5],[0.38,51.6],[0.381,28.0],[0.382,36.8],[0.383,31.6],[0.384,22.0],[0.385,33.5],[0.386,39.1],[0.387,13.3],[0.388,35.1],[0.389,26.5],[0.39,32.3],[0.391,40.8],[0.392,30.1],[0.393,34.3],[0.394,27.7],[0.395,37.2],[0.396,31.1],[0.397,24.6],[0.398,35.9],[0.399,33.1],[0.4,29.6],
[0.401,38.4],[0.402,32.7],[0.403,27.3],[0.404,35.0],[0.405,41.5],[0.406,30.8],[0.407,36.6],[0.408,24.9],[0.409,33.8],[0.41,39.4],[0.411,29.2],[0.412,35.5],[0.413,42.6],[0.414,31.7],[0.415,37.5],[0.416,27.9],[0.417,34.1],[0.418,40.2],[0.419,32.9],[0.42,21.9],[0.421,36.2],[0.422,30.3],[0.423,38.9],[0.424,33.6],[0.425,43.2],[0.426,28.6],[0.427,35.7],[0.428,31.3],[0.429,39.9],[0.43,34.4],[0.431,26.4],[0.432,37.1],[0.433,32.1],[0.434,41.0],[0.435,35.2],[0.436,29.8],[0.437,38.0],[0.438,33.2],[0.439,44.0],[0.44,51.6],[0.441,36.9],[0.442,30.6],[0.443,40.7],[0.444,34.8],[0.445,27.0],[0.446,37.8],[0.447,32.4],[0.448,42.1],[0.449,36.0],[0.45,31.0],
[0.451,39.3],[0.452,34.2],[0.453,45.0],[0.454,37.3],[0.455,28.7],[0.456,41.8],[0.457,35.4],[0.458,47.5],[0.459,32.6],[0.46,38.6],[0.461,43.6],[0.462,36.1],[0.463,25.9],[0.464,40.0],[0.465,33.7],[0.466,48.4],[0.467,37.6],[0.468,42.4],[0.469,30.9],[0.47,35.9],[0.471,46.2],[0.472,39.0],[0.473,34.5],[0.474,41.2],[0.475,29.0],[0.476,37.0],[0.477,44.4],[0.478,33.9],[0.479,40.5],[0.48,51.0],[0.481,20.0],[0.482,36.4],[0.483,42.9],[0.484,31.6],[0.485,38.2],[0.486,47.0],[0.487,35.1],[0.488,40.9],[0.489,27.8],[0.49,43.9],[0.491,37.9],[0.492,33.0],[0.493,45.9],[0.494,39.7],[0.495,36.6],[0.496,49.3],[0.497,41.6],[0.498,30.2],[0.499,38.8],[0.5,44.8],
[0.501,35.6],[0.502,42.0],[0.503,48.9],[0.504,38.0],[0.505,31.9],[0.506,45.3],[0.507,40.1],[0.508,36.8],[0.509,49.6],[0.51,43.0],[0.511,28.4],[0.512,39.5],[0.513,46.5],[0.514,34.7],[0.515,41.4],[0.516,37.2],[0.517,48.0],[0.518,43.7],[0.519,32.3],[0.52,39.9],[0.521,45.6],[0.522,36.3],[0.523,42.8],[0.524,26.8],[0.525,40.6],[0.526,47.3],[0.527,38.4],[0.528,44.2],[0.529,33.5],[0.53,49.0],[0.531,41.1],[0.532,37.7],[0.533,46.0],[0.534,30.5],[0.535,42.5],[0.536,39.2],[0.537,44.9],[0.538,35.3],[0.539,48.6],[0.54,40.4],[0.541,43.4],[0.542,37.0],[0.543,29.7],[0.544,45.1],[0.545,41.9],[0.546,38.6],[0.547,47.8],[0.548,34.0],[0.549,42.3],[0.55,44.0],
[0.551,39.8],[0.552,46.7],[0.553,36.5],[0.554,43.1],[0.555,49.4],[0.556,40.7],[0.557,32.8],[0.558,45.4],[0.559,38.3],[0.56,42.7],[0.561,47.9],[0.562,35.8],[0.563,24.3],[0.564,41.5],[0.565,44.6],[0.566,38.9],[0.567,30.9],[0.568,46.3],[0.569,42.2],[0.57,48.6],[0.571,37.4],[0.572,40.9],[0.573,44.3],[0.574,34.4],[0.575,47.1],[0.576,41.7],[0.577,39.0],[0.578,45.8],[0.579,36.2],[0.58,43.5],[0.581,49.0],[0.582,40.2],[0.583,33.6],[0.584,46.9],[0.585,42.0],[0.586,38.1],[0.587,44.7],[0.588,41.3],[0.589,31.5],[0.59,47.6],[0.591,43.8],[0.592,39.7],[0.593,45.2],[0.594,36.9],[0.595,42.9],[0.596,48.2],[0.597,40.8],[0.598,35.0],[0.599,44.1],[0.6,46.4],
[0.602,41.6],[0.604,58.9],[0.606,37.5],[0.608,45.0],[0.61,50.4],[0.612,42.6],[0.614,39.4],[0.616,48.0],[0.618,44.2],[0.62,34.9],[0.622,46.6],[0.624,58.9],[0.626,41.0],[0.628,52.3],[0.63,43.4],[0.632,47.4],[0.634,38.6],[0.636,45.7],[0.638,49.7],[0.64,42.3],[0.642,36.7],[0.644,47.0],[0.646,44.5],[0.648,53.5],[0.65,40.3],
[0.652,48.7],[0.654,45.3],[0.656,55.8],[0.658,42.8],[0.66,50.0],[0.662,46.0],[0.664,39.2],[0.666,52.9],[0.668,47.7],[0.67,44.0],[0.672,56.1],[0.674,49.5],[0.676,43.1],[0.678,51.6],[0.68,46.8],[0.682,54.3],[0.684,41.9],[0.686,48.4],[0.688,57.0],[0.69,45.6],[0.692,50.8],[0.694,43.7],[0.696,53.0],[0.698,47.3],[0.7,62.0],
[0.702,49.9],[0.704,55.0],[0.706,46.2],[0.708,61.9],[0.71,52.1],[0.712,48.1],[0.714,57.5],[0.716,44.7],[0.718,53.8],[0.72,50.6],[0.722,59.4],[0.724,47.2],[0.726,55.6],[0.728,51.3],[0.73,62.1],[0.732,48.9],[0.734,54.0],[0.736,44.4],[0.738,58.2],[0.74,52.6],[0.742,49.3],[0.744,56.5],[0.746,53.4],[0.748,61.3],[0.75,50.2],
[0.752,55.4],[0.754,51.8],[0.756,60.3],[0.758,57.1],[0.76,49.0],[0.762,54.6],[0.764,58.6],[0.766,52.4],[0.768,61.0],[0.77,56.0],[0.772,50.0],[0.774,59.9],[0.776,54.9],[0.778,47.8],[0.78,57.7],[0.782,53.2],[0.784,61.6],[0.786,55.9],[0.788,51.1],[0.79,58.0],[0.792,54.3],[0.794,49.6],[0.796,56.8],[0.798,60.7],[0.8,52.9],
[0.803,56.7],[0.806,53.6],[0.809,59.2],[0.812,50.9],[0.815,55.2],[0.818,57.6],[0.821,52.0],[0.824,54.7],[0.827,58.4],[0.83,49.7],[0.833,55.7],[0.836,53.0],[0.839,57.3],[0.842,51.4],[0.845,54.4],[0.848,56.4],[0.851,52.6],[0.855,51.0],
[0.858,58.1],[0.862,55.0],[0.866,57.5],[0.87,60.2],[0.875,56.3],[0.88,58.8],[0.885,54.2],[0.89,57.9],[0.895,60.0],[0.9,56.0],[0.905,66.2],[0.91,59.6],[0.918,65.9],[0.925,60.5],[0.932,65.6],[0.94,60.8],[0.946,65.1],[0.952,58.6],[0.956,60.1],[0.975,64.8],[0.98,59.7],[0.985,67.4],[0.993,70.0],[1.0,69.7],[1.005,59.1],[1.012,69.8],[1.022,67.2],[1.026,62.7]
];
const cloudD2 = [
[0.0015,1.5],[0.0035,3.2],[0.0055,0.9],[0.0075,4.6],[0.0095,2.1],[0.0115,5.8],[0.0135,0.4],[0.0155,3.9],[0.0175,1.8],[0.0195,6.4],[0.0215,2.9],[0.0235,0.5],[0.0255,4.3],[0.0275,7.1],[0.0295,1.2],[0.0315,3.5],[0.0335,5.5],[0.0355,0.9],[0.0375,7.7],[0.0395,2.8],[0.0415,4.9],[0.0435,6.6],[0.0455,1.5],[0.0475,3.3],[0.0495,7.9],
[0.0505,5.2],[0.0525,2.0],[0.0545,8.6],[0.0565,3.7],[0.0585,6.0],[0.0605,1.3],[0.0625,9.0],[0.0645,4.8],[0.0665,7.3],[0.0685,2.5],[0.0705,5.6],[0.0725,10.2],[0.0745,3.0],[0.0765,6.9],[0.0785,8.1],[0.0805,4.4],[0.0825,10.9],[0.0845,2.2],[0.0865,7.8],[0.0885,5.0],[0.0905,9.4],[0.0925,3.4],[0.0945,6.6],[0.0965,10.0],[0.0985,4.9],
[0.1005,9.3],[0.1025,6.1],[0.1045,12.6],[0.1065,4.2],[0.1085,10.0],[0.1105,7.4],[0.1125,13.5],[0.1145,5.5],[0.1165,9.0],[0.1185,11.9],[0.1205,7.7],[0.1225,14.6],[0.1245,5.1],[0.1265,10.7],[0.1285,8.4],[0.1305,13.0],[0.1325,6.7],[0.1345,11.3],[0.1365,15.1],[0.1385,8.9],[0.1405,10.2],[0.1425,12.9],[0.1445,7.2],[0.1465,14.0],[0.1485,10.6],
[0.1505,13.8],[0.1525,9.9],[0.1545,16.8],[0.1565,12.1],[0.1585,8.5],[0.1605,15.0],[0.1625,11.0],[0.1645,18.2],[0.1665,13.4],[0.1685,9.3],[0.1705,16.3],[0.1725,12.7],[0.1745,19.6],[0.1765,14.6],[0.1785,10.4],[0.1805,17.2],[0.1825,15.5],[0.1845,12.0],[0.1865,20.1],[0.1885,14.2],[0.1905,18.8],[0.1925,11.6],[0.1945,16.0],[0.1965,19.0],[0.1985,13.7],
[0.2005,17.3],[0.2025,13.1],[0.2045,20.6],[0.2065,15.8],[0.2085,18.6],[0.2105,12.4],[0.2125,22.1],[0.2145,16.9],[0.2165,19.4],[0.2185,14.3],[0.2205,21.3],[0.2225,17.6],[0.2245,23.4],[0.2265,15.1],[0.2285,19.9],[0.2305,21.7],[0.2325,17.0],[0.2345,24.2],[0.2365,13.9],[0.2385,20.5],[0.2405,22.8],[0.2425,18.4],[0.2445,16.2],[0.2465,24.6],[0.2485,19.7],
[0.2505,21.9],[0.2525,17.2],[0.2545,25.3],[0.2565,19.9],[0.2585,23.0],[0.2605,16.7],[0.2625,26.4],[0.2645,21.2],[0.2665,24.0],[0.2685,18.3],[0.2705,27.5],[0.2725,22.6],[0.2745,20.0],[0.2765,25.9],[0.2785,23.7],[0.2805,17.8],[0.2825,28.4],[0.2845,22.0],[0.2865,26.8],[0.2885,20.9],[0.2905,24.4],[0.2925,29.2],[0.2945,21.5],[0.2965,26.1],[0.2985,23.3],
[0.3005,25.7],[0.3025,21.0],[0.3045,29.8],[0.3065,24.6],[0.3085,27.2],[0.3105,20.4],[0.3125,30.6],[0.3145,25.1],[0.3165,28.0],[0.3185,22.3],[0.3205,31.4],[0.3225,26.2],[0.3245,23.9],[0.3265,29.4],[0.3285,27.6],[0.3305,21.7],[0.3325,32.3],[0.3345,25.8],[0.3365,30.1],[0.3385,24.3],[0.3405,28.7],[0.3425,33.0],[0.3445,26.7],[0.3465,29.0],[0.3485,31.7],
[0.3505,27.0],[0.3525,32.1],[0.3545,25.4],[0.3565,29.3],[0.3585,34.2],[0.3605,27.9],[0.3625,31.0],[0.3645,24.5],[0.3665,33.4],[0.3685,29.9],[0.3705,35.6],[0.3725,27.3],[0.3745,31.9],[0.3765,28.6],[0.3785,34.9],[0.3805,26.2],[0.3825,32.7],[0.3845,30.4],[0.3865,36.2],[0.3885,28.1],[0.3905,33.1],[0.3925,30.9],[0.3945,35.0],[0.3965,27.6],[0.3985,32.0],
[0.4005,31.1],[0.4025,35.9],[0.4045,28.8],[0.4065,33.3],[0.4085,37.4],[0.4105,30.1],[0.4125,34.6],[0.4145,27.7],[0.4165,36.3],[0.4185,32.5],[0.4205,38.6],[0.4225,29.4],[0.4245,35.1],[0.4265,33.0],[0.4285,37.9],[0.4305,31.4],[0.4325,34.8],[0.4345,29.9],[0.4365,39.2],[0.4385,33.7],[0.4405,36.6],[0.4425,31.9],[0.4445,38.1],[0.4465,34.2],[0.4485,36.0],
[0.4505,34.5],[0.4525,38.9],[0.4545,32.0],[0.4565,36.5],[0.4585,40.7],[0.4605,33.6],[0.4625,37.8],[0.4645,31.2],[0.4665,39.6],[0.4685,35.7],[0.4705,41.8],[0.4725,33.1],[0.4745,38.0],[0.4765,36.2],[0.4785,42.3],[0.4805,34.8],[0.4825,39.9],[0.4845,32.6],[0.4865,37.3],[0.4885,41.0],[0.4905,35.9],[0.4925,39.0],[0.4945,33.9],[0.4965,42.7],[0.4985,37.1],
[0.5005,38.6],[0.5025,34.4],[0.5045,41.5],[0.5065,36.9],[0.5085,43.9],[0.5105,35.5],[0.5125,40.0],[0.5145,44.6],[0.5165,38.1],[0.5185,41.9],[0.5205,36.0],[0.5225,43.2],[0.5245,39.6],[0.5265,45.5],[0.5285,37.3],[0.5305,41.2],[0.5325,44.0],[0.5345,38.8],[0.5365,35.2],[0.5385,42.6],[0.5405,46.1],[0.5425,39.9],[0.5445,43.6],[0.5465,37.5],[0.5485,40.9],
[0.5505,42.4],[0.5525,38.4],[0.5545,45.0],[0.5565,40.3],[0.5585,43.8],[0.5605,37.9],[0.5625,46.6],[0.5645,41.0],[0.5665,44.9],[0.5685,39.3],[0.5705,42.9],[0.5725,47.4],[0.5745,40.6],[0.5765,44.2],[0.5785,38.7],[0.5805,46.0],[0.5825,42.1],[0.5845,39.8],[0.5865,45.7],[0.5885,43.3],[0.5905,40.5],[0.5925,47.0],[0.5945,42.6],[0.5965,45.3],[0.5985,39.0],
[0.601,44.8],[0.605,41.2],[0.609,47.9],[0.613,43.7],[0.617,46.5],[0.621,40.6],[0.625,49.0],[0.629,44.3],[0.633,47.2],[0.637,42.0],[0.641,50.3],[0.645,45.6],[0.649,48.5],[0.653,43.0],[0.657,51.2],[0.661,47.0],[0.665,44.6],[0.669,49.8],[0.673,46.4],[0.677,52.4],[0.681,44.0],[0.685,50.6],[0.689,47.6],[0.693,53.3],[0.697,45.9],
[0.701,51.5],[0.705,48.0],[0.709,54.5],[0.713,50.3],[0.717,56.2],[0.721,47.4],[0.725,53.0],[0.729,49.5],[0.733,57.1],[0.737,51.8],[0.741,55.0],[0.745,48.6],[0.749,53.9],[0.753,58.4],[0.757,52.0],[0.761,55.7],[0.765,50.7],[0.769,57.8],[0.773,53.5],[0.777,49.9],[0.781,56.4],[0.785,52.8],[0.789,59.3],[0.793,54.8],[0.797,51.6]
];

// ---------- build ----------
function rowsToPoints(rows) { const p = []; rows.forEach(r => r.slice(1).forEach(y => p.push([r[0], y]))); return p; }
const measured = [rowsToPoints(bandA).concat(outA, jagA), rowsToPoints(bandB).concat(outB, jagB),
  cloudC.concat(cloudC2), cloudD.concat(cloudD2)];
const ideal = [idealA, idealB, idealC, idealD];

const FONT = 'Liberation Sans, Arial, Helvetica, sans-serif';
const AX = '#7a7a7a', TXT = '#262626', BLUE = '#0072BD', ORANGE = '#D95319';
const grids = [
  {left: 100.7, top: 14, width: 352.6, height: 258.3},
  {left: 648.3, top: 13.3, width: 342.7, height: 259},
  {left: 72.7, top: 404.3, width: 351.6, height: 258.4},
  {left: 638.3, top: 404.3, width: 352.4, height: 258.4}
];
const yNameGap = [32, 43, 33, 31];
const legendPos = [[112, 25], [659, 25], [83, 416], [649, 416]];
const capPos = [[268, 359], [807, 359], [273, 740], [806, 740]];
const dotSize = [3.4, 3.4, 3.2, 3.6];

const xAxes = [], yAxes = [], series = [], legends = [], graphics = [];
for (let i = 0; i < 4; i++) {
  const common = {gridIndex: i, type: 'value', min: 0, axisLine: {show: true, lineStyle: {color: AX, width: 1}},
    axisTick: {show: true, inside: true, length: 4, lineStyle: {color: AX}}};
  xAxes.push(Object.assign({}, common, {position: 'bottom', max: xMax[i], interval: xStep[i],
    name: xNames[i], nameLocation: 'middle', nameGap: 34,
    nameTextStyle: {fontSize: 20, fontFamily: FONT, color: TXT},
    axisLabel: {fontSize: 20, fontFamily: FONT, color: TXT, margin: 8, showMaxLabel: false},
    splitLine: {show: true, lineStyle: {color: '#e6e6e6', width: 1}}}));
  xAxes.push(Object.assign({}, common, {position: 'top', max: xMax[i], interval: xStep[i],
    axisLabel: {show: false}, splitLine: {show: false}}));
  yAxes.push(Object.assign({}, common, {position: 'left', max: yMax[i], interval: yStep[i],
    name: yNames[i], nameLocation: 'middle', nameGap: yNameGap[i],
    nameTextStyle: {fontSize: 20, fontFamily: FONT, color: TXT},
    axisLabel: {fontSize: 20, fontFamily: FONT, color: TXT, margin: 6, showMaxLabel: false},
    splitLine: {show: true, lineStyle: {color: '#e6e6e6', width: 1}}}));
  yAxes.push(Object.assign({}, common, {position: 'right', max: yMax[i], interval: yStep[i],
    axisLabel: {show: false}, splitLine: {show: false}}));
  series.push({type: 'scatter', name: seriesNames[0], xAxisIndex: 2 * i, yAxisIndex: 2 * i,
    data: measured[i], symbol: 'rect', symbolSize: dotSize[i], itemStyle: {color: BLUE}, silent: true, z: 2});
  series.push({type: 'line', name: seriesNames[1], xAxisIndex: 2 * i, yAxisIndex: 2 * i,
    data: ideal[i], symbol: 'none', lineStyle: {color: ORANGE, width: 2}, itemStyle: {color: ORANGE}, silent: true, z: 3});
  legends.push({show: true, orient: 'vertical', left: legendPos[i][0], top: legendPos[i][1],
    data: [{name: seriesNames[0], icon: 'circle'}, {name: seriesNames[1], icon: 'rect'}],
    itemWidth: 35, itemHeight: 2.5, itemGap: 5, padding: [6, 5, 4, 6],
    borderColor: '#808080', borderWidth: 1, backgroundColor: '#fff', selectedMode: false,
    textStyle: {fontSize: 20, fontFamily: FONT, color: '#000'}});
  graphics.push({type: 'text', x: capPos[i][0], y: capPos[i][1], silent: true,
    style: {text: '{b|' + captionTags[i] + '} ' + captionTexts[i],
      rich: {b: {fontWeight: 'bold', fontFamily: 'DejaVu Serif', fontSize: 23, fill: '#000'}},
      fontFamily: 'DejaVu Serif', fontSize: 23, fill: '#000',
      align: 'center', verticalAlign: 'middle', textAlign: 'center', textVerticalAlign: 'middle'}});
}

const chart = echarts.init(document.getElementById('c'), null, {renderer: 'canvas'});
chart.setOption({
  animation: false, backgroundColor: '#fff',
  grid: grids.map(g => Object.assign({containLabel: false, outerBoundsMode: 'none'}, g)),
  xAxis: xAxes, yAxis: yAxes, series: series, legend: legends, graphic: graphics
});
</script></body></html>
